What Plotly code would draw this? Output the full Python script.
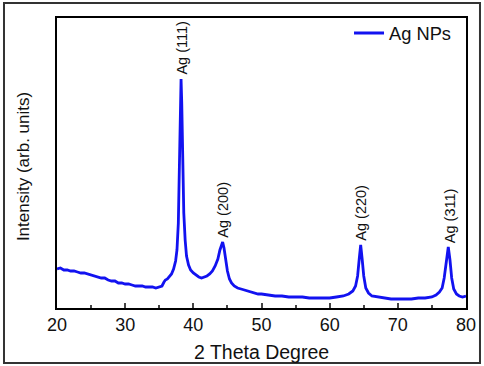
import plotly.graph_objects as go

two_theta = [20, 20.5, 21, 21.5, 22, 22.5, 23, 23.5, 24, 24.5, 25, 25.5, 26, 26.5, 27, 27.5, 28, 28.5,
             29, 29.5, 30, 30.5, 31, 31.5, 32, 32.5, 33, 33.5, 34, 34.5, 35, 35.4, 35.7, 35.9, 36.2, 36.5,
             36.8, 37.1, 37.4, 37.6, 37.8, 37.95, 38.1, 38.2, 38.3, 38.45, 38.6, 38.8, 39.0, 39.3, 39.6,
             40.0, 40.4, 40.8, 41.2, 41.6, 42.0, 42.4, 42.8, 43.2, 43.6, 43.9, 44.1, 44.3, 44.5, 44.7,
             45.0, 45.3, 45.6, 46.0, 46.5, 47, 47.5, 48, 48.5, 49, 49.5, 50, 51, 52, 53, 54, 55, 56, 57,
             58, 59, 60, 61, 62, 62.8, 63.4, 63.8, 64.1, 64.35, 64.55, 64.75, 65.0, 65.3, 65.7, 66.2, 67,
             68, 69, 70, 71, 72, 73, 74, 75, 75.6, 76.1, 76.5, 76.8, 77.1, 77.4, 77.65, 77.9, 78.2, 78.6,
             79, 79.5, 80]
intensity = [39, 40, 38, 38, 37, 37, 36, 35, 35, 34, 33, 32, 31, 30, 30, 28, 27, 27,
             25, 25, 24, 24, 23, 22, 22, 22, 21, 21, 21, 20, 21, 22, 26, 28, 29, 31,
             34, 39, 47, 58, 85, 140, 205, 229, 205, 140, 95, 68, 52, 43, 38,
             35, 33, 31, 30, 31, 32, 34, 37, 42, 49, 58, 63, 66, 60, 50,
             37, 29, 25, 22, 20, 19, 18, 17, 16, 15, 14, 14, 13, 12, 12, 11, 11, 11, 10,
             10, 10, 10, 11, 12, 14, 17, 22, 32, 50, 63, 50, 32, 20, 15, 12, 11,
             10, 9, 9, 9, 9, 10, 10, 11, 13, 16, 20, 30, 45, 61, 48, 30, 19, 14,
             12, 11, 12]

peak_labels = ["Ag (111)", "Ag (200)", "Ag (220)", "Ag (311)"]
peak_x = [38.2, 44.3, 64.55, 77.6]
peak_y = [229, 66, 63, 61]

x_title = "2 Theta Degree"
y_title = "Intensity (arb. units)"

FONT = "Arial, Liberation Sans, sans-serif"

fig = go.Figure()
fig.add_trace(go.Scatter(x=two_theta, y=intensity, mode="lines", name="Ag NPs",
                         line=dict(color="#1212f0", width=2.8)))

for lab, px, py in zip(peak_labels, peak_x, peak_y):
    fig.add_annotation(x=px, y=py, text=lab, textangle=-90, showarrow=False,
                       xanchor="center", yanchor="bottom", yshift=2,
                       font=dict(family=FONT, size=14.5, color="#111"))

fig.add_annotation(xref="paper", yref="paper", x=0.5, y=-0.152, text=x_title, showarrow=False,
                   xanchor="center", yanchor="middle", font=dict(family=FONT, size=19.5, color="#111"))
fig.add_annotation(xref="paper", yref="paper", x=-0.083, y=0.486, text=y_title, showarrow=False,
                   textangle=-90, xanchor="center", yanchor="middle",
                   font=dict(family=FONT, size=17, color="#111"))

fig.add_shape(type="rect", xref="paper", yref="paper", x0=-0.1296, x1=1.0342, y0=-0.1897, y1=1.0517,
              line=dict(color="#333", width=2))

fig.update_layout(
    width=484, height=366,
    margin=dict(l=57, r=18, t=18, b=58, autoexpand=False),
    paper_bgcolor="white", plot_bgcolor="white",
    font=dict(family=FONT, size=18, color="#111"),
    showlegend=True,
    legend=dict(x=0.714, y=0.948, xanchor="left", yanchor="middle", bgcolor="rgba(0,0,0,0)",
                font=dict(size=18.3)),
    xaxis=dict(range=[20, 80], dtick=10, tick0=20, ticks="inside", ticklen=5, tickwidth=1.5,
               showline=True, linecolor="black", linewidth=1.5, mirror=True, showgrid=False,
               zeroline=False, automargin=False, tickfont=dict(size=18),
               minor=dict(dtick=5, ticks="inside", ticklen=3, tickwidth=1.5, showgrid=False)),
    yaxis=dict(range=[0, 290], showticklabels=False, ticks="", showline=True, linecolor="black",
               linewidth=1.5, mirror=True, showgrid=False, zeroline=False, automargin=False),
)

fig.write_html("out.html", config={"displayModeBar": False},
               post_script="document.body.style.margin='0';document.body.style.overflow='hidden';")
